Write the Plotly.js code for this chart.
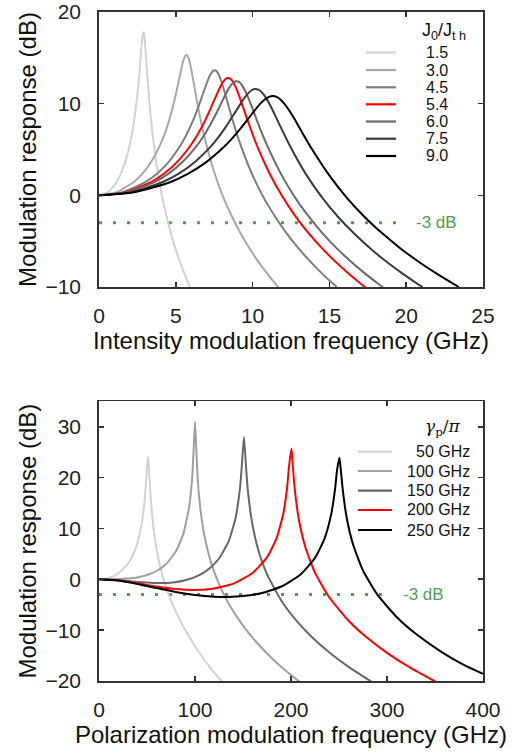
<!DOCTYPE html>
<html><head><meta charset="utf-8">
<script src="https://cdn.plot.ly/plotly-3.0.1.min.js"></script>
<style>html,body{margin:0;padding:0;background:#fff}#chart{width:524px;height:754px}</style>
</head><body><div id="chart"></div>
<script>
// ---------- Top panel: intensity modulation response ----------
const imLabels = ['1.5', '3.0', '4.5', '5.4', '6.0', '7.5', '9.0'];
const imColors = ['#d2d2d2', '#a8a8a8', '#7e7e7e', '#ff0000', '#6a6a6a', '#3a3a3a', '#000000'];

const imF_15 = [0, 0.58, 1.16, 1.45, 1.74, 2.03, 2.18, 2.32, 2.47, 2.62, 2.70, 2.79, 2.85, 2.91, 2.96, 3.02, 3.11, 3.20, 3.34, 3.49, 3.78, 4.07, 4.36, 4.65, 4.94, 5.23, 5.52, 5.81, 5.93];
const imDb_15 = [0, 0.35, 1.50, 2.47, 3.81, 5.72, 6.98, 8.53, 10.51, 13.05, 14.87, 16.69, 17.57, 17.80, 17.24, 16.09, 13.98, 11.93, 9.00, 6.63, 2.97, 0.20, -2.04, -3.94, -5.59, -7.05, -8.37, -9.57, -10.03];

const imF_30 = [0, 1.15, 2.29, 2.87, 3.44, 4.01, 4.30, 4.58, 4.87, 5.16, 5.33, 5.50, 5.62, 5.73, 5.84, 5.96, 6.13, 6.30, 6.59, 6.88, 7.45, 8.02, 8.60, 9.17, 9.74, 10.31, 10.89, 11.46, 11.69];
const imDb_30 = [0, 0.35, 1.49, 2.44, 3.77, 5.61, 6.82, 8.28, 10.07, 12.22, 13.59, 14.77, 15.24, 15.30, 14.91, 14.14, 12.61, 10.98, 8.45, 6.27, 2.79, 0.09, -2.12, -4.00, -5.63, -7.09, -8.40, -9.60, -10.05];

const imF_45 = [0, 1.52, 3.04, 3.81, 4.57, 5.33, 5.71, 6.09, 6.47, 6.85, 7.08, 7.31, 7.46, 7.61, 7.76, 7.91, 8.14, 8.37, 8.75, 9.13, 9.89, 10.65, 11.42, 12.18, 12.94, 13.70, 14.46, 15.22, 15.49];
const imDb_45 = [0, 0.35, 1.47, 2.42, 3.71, 5.51, 6.66, 8.03, 9.65, 11.46, 12.52, 13.34, 13.62, 13.61, 13.28, 12.69, 11.49, 10.14, 7.91, 5.91, 2.60, -0.03, -2.20, -4.06, -5.68, -7.13, -8.43, -9.63, -10.02];

const imF_54 = [0, 1.70, 3.41, 4.26, 5.11, 5.96, 6.39, 6.82, 7.24, 7.67, 7.92, 8.18, 8.35, 8.52, 8.69, 8.86, 9.12, 9.37, 9.80, 10.22, 11.08, 11.93, 12.78, 13.63, 14.48, 15.34, 16.19, 17.04, 17.34];
const imDb_54 = [0, 0.34, 1.46, 2.40, 3.68, 5.44, 6.55, 7.86, 9.38, 11.02, 11.93, 12.60, 12.80, 12.76, 12.46, 11.94, 10.88, 9.66, 7.59, 5.69, 2.47, -0.11, -2.26, -4.10, -5.71, -7.15, -8.45, -9.64, -10.04];

const imF_60 = [0, 1.82, 3.64, 4.55, 5.45, 6.36, 6.82, 7.27, 7.73, 8.18, 8.45, 8.73, 8.91, 9.09, 9.27, 9.45, 9.73, 10.00, 10.45, 10.91, 11.82, 12.73, 13.64, 14.54, 15.45, 16.36, 17.27, 18.18, 18.50];
const imDb_60 = [0, 0.34, 1.46, 2.39, 3.66, 5.40, 6.50, 7.79, 9.26, 10.82, 11.67, 12.27, 12.45, 12.40, 12.11, 11.61, 10.61, 9.44, 7.44, 5.58, 2.42, -0.15, -2.28, -4.12, -5.73, -7.16, -8.46, -9.65, -10.05];

const imF_75 = [0, 2.08, 4.15, 5.19, 6.23, 7.27, 7.79, 8.30, 8.82, 9.34, 9.65, 9.96, 10.17, 10.38, 10.59, 10.80, 11.11, 11.42, 11.94, 12.46, 13.49, 14.53, 15.57, 16.61, 17.65, 18.68, 19.72, 20.76, 21.07];
const imDb_75 = [0, 0.34, 1.45, 2.37, 3.62, 5.31, 6.37, 7.58, 8.94, 10.31, 11.02, 11.49, 11.61, 11.53, 11.26, 10.83, 9.94, 8.89, 7.06, 5.31, 2.26, -0.25, -2.36, -4.17, -5.77, -7.20, -8.49, -9.68, -10.01];

const imF_90 = [0, 2.31, 4.62, 5.78, 6.94, 8.09, 8.67, 9.25, 9.83, 10.40, 10.75, 11.10, 11.33, 11.56, 11.79, 12.02, 12.37, 12.72, 13.29, 13.87, 15.03, 16.18, 17.34, 18.50, 19.65, 20.81, 21.96, 23.12, 23.43];
const imDb_90 = [0, 0.34, 1.43, 2.34, 3.57, 5.21, 6.22, 7.36, 8.60, 9.81, 10.40, 10.77, 10.83, 10.74, 10.49, 10.09, 9.30, 8.35, 6.67, 5.02, 2.09, -0.36, -2.44, -4.23, -5.82, -7.24, -8.52, -9.70, -10.00];

const imThreshF = [0, 20];
const imThreshDb = [-3, -3];

// ---------- Bottom panel: polarization modulation response ----------
const pmLabels = ['50 GHz', '100 GHz', '150 GHz', '200 GHz', '250 GHz'];
const pmColors = ['#d2d2d2', '#a0a0a0', '#686868', '#ff0000', '#000000'];

const pmF_50 = [0, 10, 20, 30, 35, 40, 44, 47, 49, 50, 51, 52, 53, 55, 58, 62, 67, 75, 85, 95, 105, 118, 129];
const pmDb_50 = [0, 0.26, 1.14, 3.01, 4.61, 7.11, 10.37, 14.53, 19.2, 22.3, 24.1, 21.9, 18.5, 13.3, 8.36, 3.98, 0.13, -4.2, -8.3, -11.6, -14.6, -17.9, -20.3];

const pmF_100 = [0, 10, 20, 30, 40, 50, 60, 70, 80, 88, 94, 97, 99, 100, 101, 103, 106, 110, 116, 125, 135, 150, 165, 180, 195, 211];
const pmDb_100 = [0, 0.01, 0.04, 0.14, 0.37, 0.83, 1.63, 3.02, 5.45, 9.03, 14.36, 19.84, 27.2, 31.0, 27.0, 19.2, 13.23, 8.41, 3.76, -0.95, -4.76, -9.12, -12.58, -15.51, -18.05, -20.47];

const pmF_150 = [0, 15, 30, 45, 60, 75, 90, 105, 115, 125, 135, 142, 147, 149, 151, 153, 155, 160, 166, 175, 190, 205, 220, 240, 260, 284];
const pmDb_150 = [0, -0.09, -0.33, -0.59, -0.75, -0.67, -0.20, 0.87, 2.12, 4.09, 7.47, 11.85, 18.16, 22.9, 28.0, 22.6, 17.54, 10.58, 5.71, 1.00, -4.22, -8.00, -11.04, -14.39, -17.23, -20.17];

const pmF_200 = [0, 20, 40, 60, 80, 100, 120, 140, 160, 175, 185, 192, 196, 198, 200.5, 202, 204, 208, 215, 225, 240, 260, 280, 300, 325, 352];
const pmDb_200 = [0, -0.23, -0.79, -1.42, -1.91, -2.09, -1.81, -0.85, 1.24, 4.31, 8.10, 12.93, 18.13, 22.29, 25.7, 22.0, 17.62, 11.95, 6.30, 1.31, -3.59, -8.14, -11.61, -14.46, -17.48, -20.28];

const pmF_250 = [0, 20, 40, 60, 80, 100, 120, 135, 150, 170, 190, 210, 225, 235, 242, 246, 248, 250.5, 252, 254, 258, 265, 275, 290, 310, 330, 355, 380, 400];
const pmDb_250 = [0, -0.26, -0.92, -1.73, -2.49, -3.07, -3.41, -3.46, -3.30, -2.69, -1.42, 0.95, 4.21, 8.04, 12.91, 17.91, 21.53, 23.9, 21.28, 17.49, 12.11, 6.64, 1.74, -3.02, -7.41, -10.72, -14.06, -16.84, -18.6];

const pmThreshF = [0, 305];
const pmThreshDb = [-3, -3];

const xTicksTop = [0, 5, 10, 15, 20, 25];
const yTicksTop = [-10, 0, 10, 20];
const xTicksBot = [0, 100, 200, 300, 400];
const yTicksBot = [-20, -10, 0, 10, 20, 30];

// ---------- build ----------
const FONT = '"Liberation Sans", Arial, Helvetica, sans-serif';
const imF = [imF_15, imF_30, imF_45, imF_54, imF_60, imF_75, imF_90];
const imDb = [imDb_15, imDb_30, imDb_45, imDb_54, imDb_60, imDb_75, imDb_90];
const pmF = [pmF_50, pmF_100, pmF_150, pmF_200, pmF_250];
const pmDb = [pmDb_50, pmDb_100, pmDb_150, pmDb_200, pmDb_250];

const traces = [];
const green = '#4f9f4f';
traces.push({x: imThreshF, y: imThreshDb, xaxis: 'x', yaxis: 'y', mode: 'lines', showlegend: false, hoverinfo: 'skip',
  line: {color: green, width: 3, dash: '3px,11px'}});
traces.push({x: pmThreshF, y: pmThreshDb, xaxis: 'x2', yaxis: 'y2', mode: 'lines', showlegend: false, hoverinfo: 'skip',
  line: {color: green, width: 3, dash: '3px,11px'}});
imLabels.forEach((lab, i) => traces.push({x: imF[i], y: imDb[i], xaxis: 'x', yaxis: 'y', mode: 'lines', name: lab,
  showlegend: false, line: {color: imColors[i], width: 2, shape: 'spline', smoothing: 0.6}}));
pmLabels.forEach((lab, i) => traces.push({x: pmF[i], y: pmDb[i], xaxis: 'x2', yaxis: 'y2', mode: 'lines', name: lab,
  showlegend: false, line: {color: pmColors[i], width: 2, shape: 'spline', smoothing: 0.5}}));

// pixel helpers for layout placement
const L = 99, R = 483, T = 12, B = 681;
const pxX = p => (p - L) / (R - L);
const pxY = p => (B - p) / (B - T);

const shapes = [];
const annotations = [];
// top legend
const topRows = [52.5, 70, 87.3, 104.3, 121.5, 138.7, 156];
imLabels.forEach((lab, i) => {
  shapes.push({type: 'line', xref: 'paper', yref: 'paper', x0: pxX(366), x1: pxX(396), y0: pxY(topRows[i]), y1: pxY(topRows[i]),
    line: {color: imColors[i], width: 2.2}});
  annotations.push({xref: 'paper', yref: 'paper', x: pxX(449.5), y: pxY(topRows[i]), xanchor: 'right', yanchor: 'middle',
    text: lab, showarrow: false, font: {family: FONT, size: 16, color: '#111'}});
});
annotations.push({xref: 'paper', yref: 'paper', x: pxX(443.5), y: pxY(31), xanchor: 'center', yanchor: 'middle',
  text: 'J<sub>0</sub>/J<sub>t h</sub>', showarrow: false, font: {family: FONT, size: 18, color: '#111'}});
// bottom legend
const botRows = [451.7, 471, 490.7, 510, 530];
pmLabels.forEach((lab, i) => {
  shapes.push({type: 'line', xref: 'paper', yref: 'paper', x0: pxX(358), x1: pxX(392), y0: pxY(botRows[i]), y1: pxY(botRows[i]),
    line: {color: pmColors[i], width: 2.2}});
  annotations.push({xref: 'paper', yref: 'paper', x: pxX(471.5), y: pxY(botRows[i]), xanchor: 'right', yanchor: 'middle',
    text: lab, showarrow: false, font: {family: FONT, size: 16, color: '#111'}});
});
annotations.push({xref: 'paper', yref: 'paper', x: pxX(442.5), y: pxY(428), xanchor: 'center', yanchor: 'middle',
  text: '<i>γ</i><sub>p</sub>/<i>π</i>', showarrow: false, font: {family: '"DejaVu Serif", serif', size: 17, color: '#111'}});
// -3 dB labels
annotations.push({xref: 'x', yref: 'y', x: 20.5, y: -3, xanchor: 'left', yanchor: 'middle', text: '-3 dB', showarrow: false,
  font: {family: FONT, size: 17, color: green}});
annotations.push({xref: 'x2', yref: 'y2', x: 315, y: -3, xanchor: 'left', yanchor: 'middle', text: '-3 dB', showarrow: false,
  font: {family: FONT, size: 17, color: green}});

function axisBase(extra) {
  return Object.assign({
    ticks: 'inside', ticklen: 5, tickwidth: 1.6, tickcolor: '#333',
    showline: true, linecolor: '#333', linewidth: 1.8, mirror: 'ticks',
    showgrid: false, zeroline: false, automargin: false, ticklabeloverflow: 'allow',
    tickfont: {family: FONT, size: 21, color: '#222'}
  }, extra);
}
const titleFont = {family: FONT, size: 24, color: '#111'};

const layout = {
  width: 524, height: 754,
  margin: {l: L, r: 524 - R, t: T, b: 754 - B, pad: 0},
  paper_bgcolor: '#fff', plot_bgcolor: '#fff',
  showlegend: false,
  font: {family: FONT},
  xaxis: axisBase({anchor: 'y', domain: [0, 1], range: [0, 25], tickvals: xTicksTop, ticklabelstandoff: 9,
    title: {text: 'Intensity modulation frequency (GHz)', font: titleFont, standoff: 6}}),
  yaxis: axisBase({anchor: 'x', domain: [pxY(287), 1], range: [-10, 20], tickvals: yTicksTop, ticklabelstandoff: 12,
    title: {text: 'Modulation response (dB)', font: titleFont, standoff: 2}}),
  xaxis2: axisBase({anchor: 'y2', domain: [0, 1], range: [0, 400], tickvals: xTicksBot, ticklabelstandoff: 9,
    title: {text: 'Polarization modulation frequency (GHz)', font: titleFont, standoff: 6}}),
  yaxis2: axisBase({anchor: 'x2', domain: [0, pxY(401.3)], range: [-20, 35], tickvals: yTicksBot, ticklabelstandoff: 12,
    title: {text: 'Modulation response (dB)', font: titleFont, standoff: 2}}),
  shapes: shapes,
  annotations: annotations
};

Plotly.newPlot('chart', traces, layout, {displayModeBar: false, staticPlot: true});
</script>
</body></html>
